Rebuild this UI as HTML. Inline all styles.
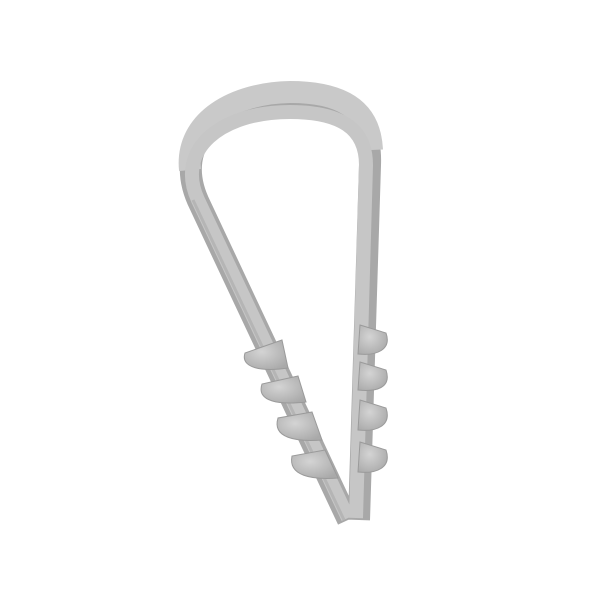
<!DOCTYPE html>
<html><head><style>html,body{margin:0;padding:0;background:#fff}</style></head>
<body>
<svg width="600" height="600" viewBox="0 0 600 600" xmlns="http://www.w3.org/2000/svg">
<defs>
<radialGradient id="t" cx="0.4" cy="0.4" r="0.7">
<stop offset="0" stop-color="#d4d4d4"/><stop offset="1" stop-color="#a9a9a9"/>
</radialGradient>
</defs>
<path d="M348,520 L200,205 C168,140 225,98 290,98 C345,98 372,118 370,165 L359,520" fill="none" stroke="#a8a8a8" stroke-width="22" stroke-linejoin="round"/>
<path d="M190,170 C185,120 235,93 290,92 C340,92 370,108 372,150" fill="none" stroke="#c9c9c9" stroke-width="22"/>
<path d="M348,518 L198,200 C175,150 220,112 290,112 C340,112 366,128 366,165 L356,518" fill="none" stroke="#c6c6c6" stroke-width="14" stroke-linejoin="round"/>
<path d="M344,520 L193,200" stroke="#b5b5b5" stroke-width="3"/>
<g fill="url(#t)" stroke="#9a9a9a" stroke-width="1">
<path d="M282,340 L245,353 C240,368 262,372 288,368 Z"/>
<path d="M298,376 L262,384 C256,402 280,405 306,402 Z"/>
<path d="M312,412 L278,418 C272,438 296,442 322,440 Z"/>
<path d="M325,450 L292,456 C288,476 312,480 338,478 Z"/>
<path d="M360,325 L386,333 C392,350 376,356 358,354 Z"/>
<path d="M360,362 L386,370 C392,388 376,392 358,390 Z"/>
<path d="M360,400 L386,408 C392,426 376,432 358,430 Z"/>
<path d="M360,442 L386,450 C392,468 376,474 358,472 Z"/>
</g>
</svg>
</body></html>
